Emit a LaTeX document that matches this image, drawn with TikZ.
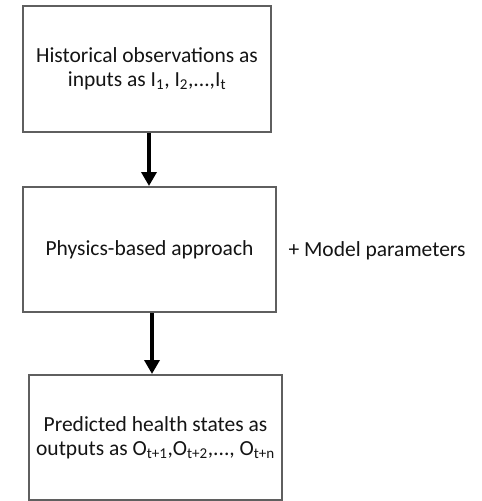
\documentclass[tikz,border=0pt]{standalone}
\usepackage{fontspec}
\setmainfont{Carlito}
\usetikzlibrary{arrows.meta}
\definecolor{boxline}{HTML}{5F5F5F}
\definecolor{ink}{HTML}{141414}
\begin{document}
\begin{tikzpicture}[x=1pt,y=-1pt,
  stagebox/.style={draw=boxline,line width=2pt,fill=white,inner sep=0pt,
    align=center,text=ink,font=\fontsize{21.5}{24}\selectfont},
  flow/.style={line width=3.4pt,black,-{Triangle[width=15pt,length=14pt]},shorten >=0pt}
]
\useasboundingbox[fill=white] (0,0) rectangle (482,501);
% three stages of the prediction chain
\node[stagebox,minimum width=248pt,minimum height=126pt] (obs) at (147,69)
  {Historical observations as\\inputs as I\textsubscript{1}, I\textsubscript{2},...,I\textsubscript{t}};
\node[stagebox,minimum width=253pt,minimum height=125pt] (phys) at (149.5,249.5)
  {Physics-based approach};
\node[stagebox,minimum width=253pt,minimum height=125pt] (pred) at (155.5,437.5)
  {Predicted health states as\\outputs as O\textsubscript{t+1},O\textsubscript{t+2},..., O\textsubscript{t+n}};
% side note
\node[anchor=base,text=ink,font=\fontsize{21.5}{24}\selectfont] (params) at (377,256)
  {+ Model parameters};
% connectors
\draw[flow] ([xshift=2pt]obs.south) -- ([xshift=2pt]obs.south |- phys.north);
\draw[flow] ([xshift=2.5pt]phys.south) -- ([xshift=2.5pt]phys.south |- pred.north);
\end{tikzpicture}
\end{document}
